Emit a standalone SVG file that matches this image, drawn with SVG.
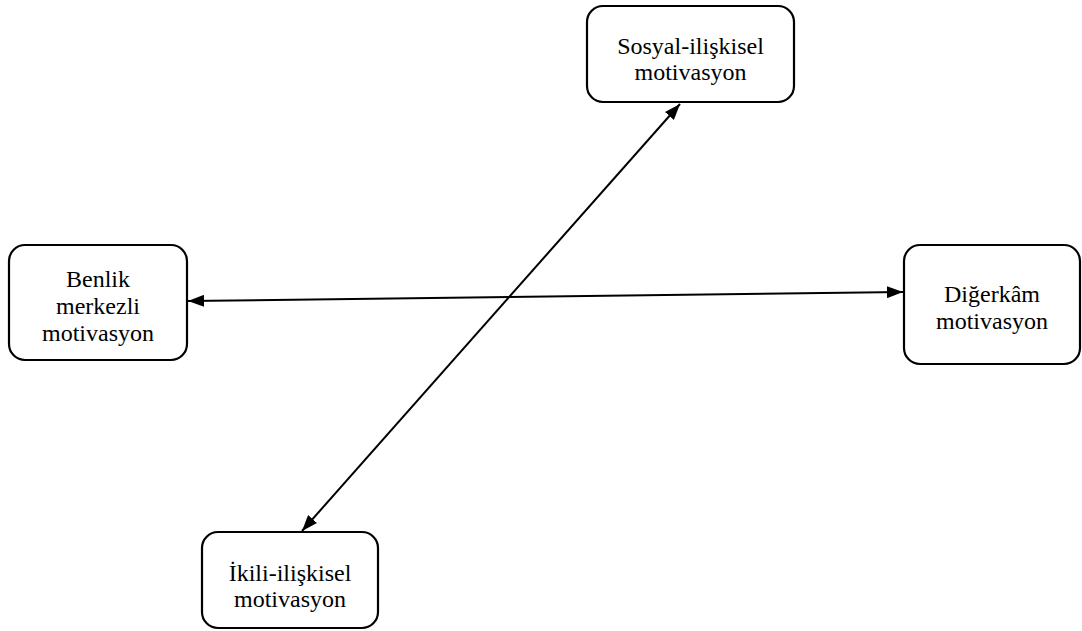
<svg xmlns="http://www.w3.org/2000/svg" width="1082" height="631" viewBox="0 0 1082 631">
  <style>
    .box { fill: #ffffff; stroke: #000000; stroke-width: 2.2; }
    .lbl { font-family: "Liberation Serif", "Times New Roman", serif; font-size: 24px; fill: #000000; text-anchor: middle; }
    .conn { stroke: #000000; stroke-width: 2; fill: none; marker-start: url(#head); marker-end: url(#head); }
  </style>
  <defs>
    <!-- filled triangular arrowhead used at both ends of each connector -->
    <marker id="head" viewBox="0 0 16 12" refX="16" refY="6" markerWidth="16" markerHeight="12" markerUnits="userSpaceOnUse" orient="auto-start-reverse">
      <path d="M0,0 L16,6 L0,12 z" fill="#000000"/>
    </marker>
  </defs>
  <rect width="1082" height="631" fill="#ffffff"/>

  <g id="connectors">
    <line class="conn" x1="188" y1="301" x2="903" y2="292"/>
    <line class="conn" x1="302" y1="531" x2="680" y2="104"/>
  </g>

  <g id="node-sosyal">
    <rect class="box" x="587" y="6" width="207" height="96" rx="16"/>
    <text class="lbl" x="690.5" y="54">Sosyal-ilişkisel</text>
    <text class="lbl" x="690.5" y="80">motivasyon</text>
  </g>

  <g id="node-benlik">
    <rect class="box" x="9" y="245" width="178" height="115" rx="16"/>
    <text class="lbl" x="98" y="287">Benlik</text>
    <text class="lbl" x="98" y="314">merkezli</text>
    <text class="lbl" x="98" y="341">motivasyon</text>
  </g>

  <g id="node-digerkam">
    <rect class="box" x="904" y="245" width="176" height="119" rx="16"/>
    <text class="lbl" x="992" y="302">Diğerkâm</text>
    <text class="lbl" x="992" y="329">motivasyon</text>
  </g>

  <g id="node-ikili">
    <rect class="box" x="202" y="532" width="176" height="96" rx="16"/>
    <text class="lbl" x="290" y="581">İkili-ilişkisel</text>
    <text class="lbl" x="290" y="607">motivasyon</text>
  </g>
</svg>
